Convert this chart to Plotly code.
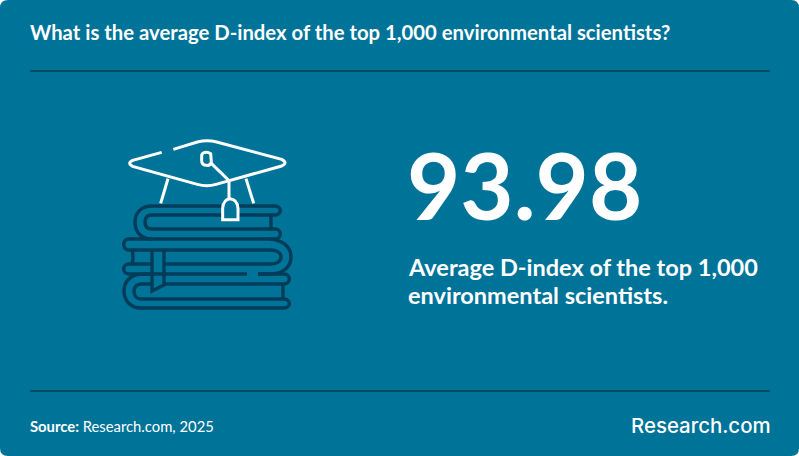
import re
import plotly.graph_objects as go

title = "What is the average D-index of the top 1,000 environmental scientists?"
value = "93.98"
line1 = "Average D-index of the top 1,000"
line2 = "environmental scientists."
source = "<b>Source:</b> Research.com, 2025"
brand = "Research.com"

BG = "#007399"
DARK = "#013c58"
WHITE = "#ffffff"

def z(path):
    """cap outline sketched on a 3x grid based at (110,130)"""
    toks = re.findall(r"[MLQCZ]|-?[\d.]+", path)
    out, isx = [], True
    for t in toks:
        if t.isalpha():
            out.append(t); isx = True
        else:
            v = float(t)
            out.append(f"{110 + v/3:.2f}" if isx else f"{130 + v/3:.2f}")
            isx = not isx
    return " ".join(out)

white_paths = [
    "M155 67 L68 91 Q50 100 68 109 L262 163 Q290 171 318 163 L515 108 Q535 98 515 88 L320 36 Q292 29 262 36 L190 58",
    "M174 146 L152 220",
    "M408 146 L431 220",
    "M282 68 Q292 64 302 71 L304 96 Q302 108 288 106 Q275 104 275 92 L275 78 Q275 70 282 68 Z",
    "M304 100 L357 152 L357 205",
    "M338 269 L338 235 Q340 208 360 206 Q382 208 384 235 L384 269 Z",
]
dark_paths = [
    # top book
    "M221 206 L152 206 C141 206 135 213 135 222 C135 232 141 239 152 239 L275 239 C282 239 282 229 275 229 L152 229 C147 229 145 226 145 222 C145 218 147 215 152 215 L221 215",
    "M239 206 L275 206 C282 206 282 215 275 215 L239 215",
    "M271 215 L271 229",
    # middle book
    "M152 239 L129 239 C122 239 122 250 129 250 L270 250 C277 250 281 253 281 257 C281 261 277 264 270 264 L164 264",
    "M270 239 C283 240 291 247 291 257 C291 267 283 274 270 274 L258 274",
    "M247 274 L129 274 C122 274 122 264 129 264 L153 264",
    "M132 250 Q134 257 132 264",
    # bookmark
    "M152 250 L152 291 L164 285 L164 250",
    # bottom book
    "M164 284 L284 284 C291 284 291 274 284 274 L258 274",
    "M153 274 L141 274 C130 275 124 282 124 291 C124 301 131 308 141 308 L284 308 C291 308 291 299 284 299 L141 299 C137 299 134 296 134 291 C134 287 137 284 141 284 L152 284",
    "M283 284 L283 299",
]

shapes = [dict(type="path", xref="x", yref="y", layer="below",
               path="M8 0 L791 0 Q799 0 799 8 L799 448 Q799 456 791 456 L8 456 Q0 456 0 448 L0 8 Q0 0 8 0 Z",
               fillcolor=BG, line=dict(width=0))]
for y in (71, 391):
    shapes.append(dict(type="line", xref="x", yref="y", x0=30, x1=770, y0=y, y1=y,
                       line=dict(color=DARK, width=1.3)))
for p in dark_paths:
    shapes.append(dict(type="path", xref="x", yref="y", path=p, line=dict(color=DARK, width=3.4)))
for p in white_paths:
    shapes.append(dict(type="path", xref="x", yref="y", path=z(p), line=dict(color=WHITE, width=3)))

def note(text, x, y, size, weight=400, family="Lato", xanchor="left"):
    return dict(text=text, x=x, y=y, xref="x", yref="y", xanchor=xanchor, yanchor="middle",
                showarrow=False, font=dict(family=family, size=size, color=WHITE, weight=weight))

annotations = [
    note(title, 27.5, 32, 20.3, 700),
    note(value, 405, 184, 92, 700),
    note(line1, 405.5, 267, 23.5, 700),
    note(line2, 405.5, 295, 23.5, 700),
    note(source, 28, 426, 14.8),
    note(brand, 772.5, 425, 20.4, 500, "Inter", "right"),
]

fig = go.Figure()
fig.update_layout(
    width=799, height=456, margin=dict(l=0, r=0, t=0, b=0),
    paper_bgcolor="#ffffff", plot_bgcolor="rgba(0,0,0,0)",
    xaxis=dict(range=[0, 799], visible=False, fixedrange=True),
    yaxis=dict(range=[456, 0], visible=False, fixedrange=True),
    shapes=shapes, annotations=annotations, showlegend=False,
)
fig.write_html("out.html", config=dict(displayModeBar=False),
               post_script="document.body.style.margin='0';document.documentElement.style.overflow='hidden';")
